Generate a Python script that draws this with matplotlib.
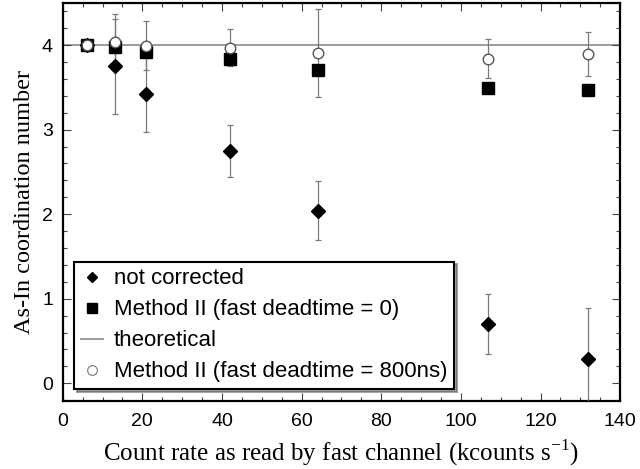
import matplotlib.pyplot as plt
from matplotlib.ticker import MultipleLocator

plt.rcParams['font.family'] = 'Liberation Sans'
plt.rcParams['mathtext.fontset'] = 'custom'
plt.rcParams['mathtext.rm'] = 'Liberation Serif'

# Data
rate = [6.0, 13.1, 20.9, 42.0, 64.0, 106.9, 132.0]

raw = [4.0, 3.75, 3.42, 2.75, 2.04, 0.70, 0.29]
raw_err = [0.0, 0.56, 0.45, 0.31, 0.35, 0.35, 0.60]

m2_zero = [4.0, 3.98, 3.92, 3.83, 3.70, 3.49, 3.47]

m2_800 = [4.0, 4.04, 3.99, 3.97, 3.91, 3.84, 3.90]
m2_800_err = [0.0, 0.33, 0.29, 0.22, 0.52, 0.23, 0.26]

theory = 4.0

fig = plt.figure(figsize=(6.4, 4.69), dpi=100)
ax = fig.add_axes([0.098, 0.145, 0.871, 0.849])

err_kw = dict(ecolor='#7a7a7a', elinewidth=0.9, capsize=2, capthick=0.9, linestyle='none')

ax.axhline(theory, color='#8a8a8a', lw=1.2, zorder=1)

ax.errorbar(rate, raw, yerr=raw_err, fmt='D', ms=7, mfc='black', mec='black',
            zorder=3, **err_kw)
ax.errorbar(rate, m2_800, yerr=m2_800_err, fmt='none', zorder=2, **err_kw)
ax.plot(rate, m2_zero, 's', ms=8.6, mfc='black', mec='black', zorder=4)
ax.plot(rate, m2_800, 'o', ms=7.6, mfc='white', mec='#555555', mew=1.0, zorder=5)

# legend handles
h1, = ax.plot([], [], 'D', ms=5.5, color='black', label='not corrected')
h2, = ax.plot([], [], 's', ms=7.5, color='black', label='Method II (fast deadtime = 0)')
h3, = ax.plot([], [], '-', color='#8a8a8a', lw=1.2, label='theoretical')
h4, = ax.plot([], [], 'o', ms=7, mfc='white', mec='#777777', mew=0.8,
              label='Method II (fast deadtime = 800ns)')
leg = ax.legend(handles=[h1, h2, h3, h4], loc='lower left', bbox_to_anchor=(0.02, 0.03),
                borderaxespad=0, fontsize=16, frameon=True, fancybox=False, shadow=True,
                handlelength=1.0, handletextpad=0.5, labelspacing=0.45, borderpad=0.3)
leg.get_frame().set_edgecolor('black')
leg.get_frame().set_linewidth(1.5)
leg.set_zorder(10)

ax.set_xlim(0, 140)
ax.set_ylim(-0.21, 4.5)
ax.xaxis.set_major_locator(MultipleLocator(20))
ax.xaxis.set_minor_locator(MultipleLocator(5))
ax.yaxis.set_major_locator(MultipleLocator(1))
ax.yaxis.set_minor_locator(MultipleLocator(0.2))
ax.tick_params(which='both', direction='in', top=True, right=True, width=0.8, color='#444444')
ax.tick_params(which='major', length=6, labelsize=14)
ax.tick_params(axis='x', which='major', pad=9)
ax.tick_params(axis='y', which='major', pad=7)
ax.tick_params(which='minor', length=3)
for s in ax.spines.values():
    s.set_linewidth(1.6)

ax.set_xlabel('Count rate as read by fast channel (kcounts s$^{\\mathrm{-1}}$)',
              family='Liberation Serif', fontsize=18, labelpad=5)
ax.set_ylabel('As-In coordination number', family='Liberation Serif', fontsize=17.5, labelpad=5)

fig.savefig('out.png', dpi=100)
